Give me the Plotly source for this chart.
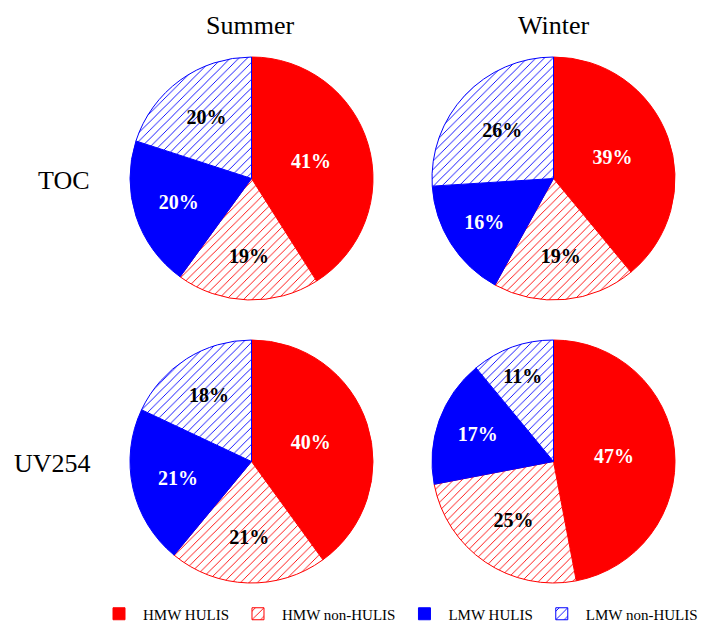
import plotly.graph_objects as go

# Fraction categories (clockwise from 12 o'clock)
labels = ["HMW HULIS", "HMW non-HULIS", "LMW HULIS", "LMW non-HULIS"]

# Percent contributions per panel
toc_summer = [41, 19, 20, 20]
toc_winter = [39, 19, 16, 26]
uv_summer = [40, 21, 21, 18]
uv_winter = [47, 25, 17, 11]

fill_colors = ["#ff0000", "#ffffff", "#0000ff", "#ffffff"]
edge_colors = ["#ff0000", "#ff0000", "#0000ff", "#0000ff"]
hatch = ["", "/", "", "/"]
text_colors = ["#ffffff", "#000000", "#ffffff", "#000000"]

SERIF = "Liberation Serif, Times New Roman, serif"

W, H = 702, 625


def dom(x0, x1, y0, y1):
    # pixel box (top-left origin) -> paper domain
    return dict(x=[x0 / W, x1 / W], y=[(H - y1) / H, (H - y0) / H])


panels = [
    (toc_summer, dom(130, 373, 57, 300), True),
    (toc_winter, dom(432, 675, 57, 300), False),
    (uv_summer, dom(130, 373, 340, 583), False),
    (uv_winter, dom(432, 675, 340, 583), False),
]

fig = go.Figure()
for vals, d, show in panels:
    fig.add_trace(go.Pie(
        labels=labels,
        values=vals,
        sort=False,
        direction="clockwise",
        rotation=0,
        domain=d,
        marker=dict(
            colors=fill_colors,
            line=dict(color=edge_colors, width=1),
            pattern=dict(shape=hatch, fgcolor=edge_colors, bgcolor=fill_colors,
                         size=6, solidity=0.15),
        ),
        texttemplate="<b>%{value}%</b>",
        textposition="inside",
        insidetextorientation="horizontal",
        textfont=dict(family=SERIF, size=20, color=text_colors),
        showlegend=show,
        hoverinfo="label+percent",
    ))

annos = [
    dict(text="Summer", x=250 / W, y=1 - 25 / H),
    dict(text="Winter", x=553 / W, y=1 - 25 / H),
    dict(text="TOC", x=64 / W, y=1 - 180 / H),
    dict(text="UV254", x=52 / W, y=1 - 463 / H),
]
for a in annos:
    fig.add_annotation(text=a["text"], x=a["x"], y=a["y"], xref="paper", yref="paper",
                       showarrow=False, xanchor="center", yanchor="middle",
                       font=dict(family=SERIF, size=26, color="#000000"))

fig.update_layout(
    width=W, height=H,
    margin=dict(l=0, r=0, t=0, b=0, autoexpand=False),
    paper_bgcolor="#ffffff",
    plot_bgcolor="#ffffff",
    legend=dict(orientation="h", x=95 / W, y=11 / H, xanchor="left", yanchor="middle",
                font=dict(family=SERIF, size=15, color="#000000"),
                itemwidth=38, traceorder="normal"),
)

fig.write_html("out.html")
